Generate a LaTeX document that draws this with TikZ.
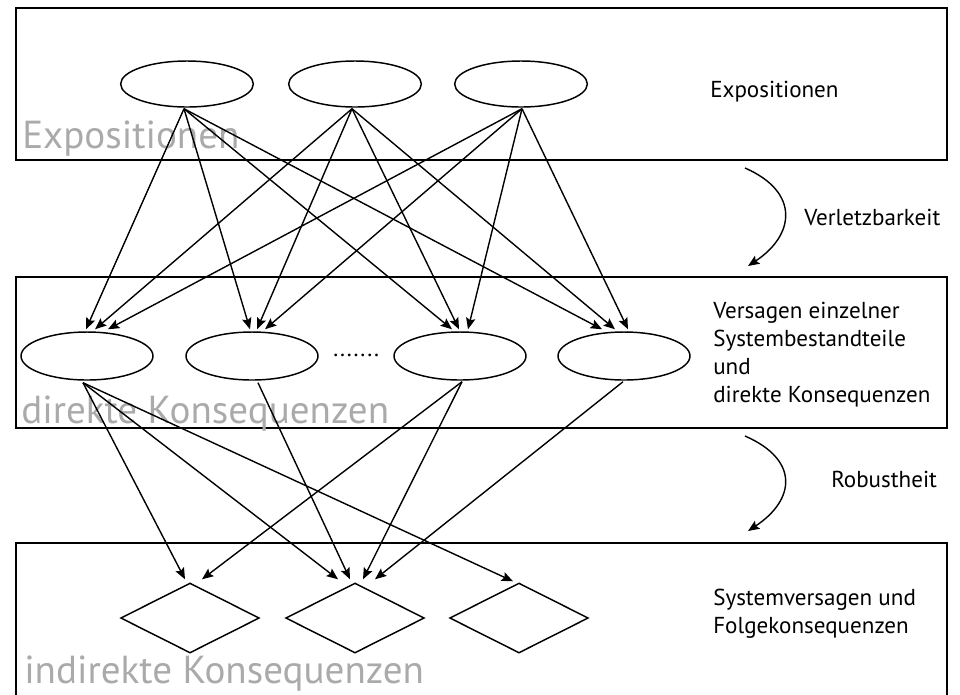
\documentclass[tikz,border=0pt]{standalone}
\usepackage{fontspec}
\setmainfont{PT Sans}
\usetikzlibrary{shapes.geometric,arrows.meta,calc}
\definecolor{labelgray}{RGB}{170,170,170}
\newcommand{\dotrow}{.\kern1.4pt.\kern1.4pt.\kern1.4pt.\kern1.4pt.\kern1.4pt.\kern1.4pt.}
\begin{document}
\begin{tikzpicture}[x=0.75pt,y=-0.75pt,
  layer/.style={draw=black,line width=1.3pt},
  expo/.style={draw,ellipse,line width=1.1pt,minimum width=99.5pt,minimum height=34.5pt,inner sep=0pt},
  cons/.style={draw,ellipse,line width=1.1pt,minimum width=99pt,minimum height=36pt,inner sep=0pt},
  fail/.style={draw,diamond,line width=1.1pt,minimum width=104pt,minimum height=52.5pt,inner sep=0pt},
  link/.style={line width=1.05pt,-{Stealth[length=8.5pt,width=7pt,inset=1.5pt]}},
  caption/.style={anchor=base west,inner sep=0pt,font=\fontsize{17.3}{20}\selectfont},
  watermark/.style={anchor=base west,inner sep=0pt,text=labelgray,font=\fontsize{29.3}{32}\selectfont},
]
\useasboundingbox (0,0) rectangle (960,694);
\begin{scope}
\clip (0,0) rectangle (960,694);

% three layers
\draw[layer] (16,8) rectangle (947,160);
\draw[layer] (16,277) rectangle (947,428);
\draw[layer] (16,543) rectangle (947,710);

% layer titles in grey
\node[watermark] (wexpo) at (22,148) {Expositionen};
\node[watermark] (wdir) at (21,423) {direkte Konsequenzen};
\node[watermark] (wind) at (24,683) {indirekte Konsequenzen};

% exposures
\node[expo] (t1) at (187,84) {};
\node[expo] (t2) at (355,84) {};
\node[expo] (t3) at (521,84) {};

% direct consequences
\node[cons] (m1) at (87,356) {};
\node[cons] (m2) at (252,356) {};
\node[cons] (m3) at (460,356) {};
\node[cons] (m4) at (624,356) {};
\node[caption] (dots) at (333,356) {\dotrow};

% system failures
\node[fail] (d1) at (190,618) {};
\node[fail] (d2) at (355,618) {};
\node[fail] (d3) at (519,618) {};

% right-hand descriptions
\node[caption] (lexpo) at (710,97) {Expositionen};
\node[caption] (lver1) at (713,318) {Versagen einzelner};
\node[caption] (lver2) at (713,346) {Systembestandteile};
\node[caption] (lver3) at (713,374) {und};
\node[caption] (lver4) at (713,402) {direkte Konsequenzen};
\node[caption] (lsys1) at (713,605) {Systemversagen und};
\node[caption] (lsys2) at (713,633) {Folgekonsequenzen};
\node[caption] (lverl) at (804,225) {Verletzbarkeit};
\node[caption] (lrob) at (831,487) {Robustheit};

% exposures -> direct consequences
\draw[link] ($(t1.south)+(-3,1)$) -- ($(m1.north)+(-1,-2)$);
\draw[link] ($(t2.south)+(-3,1)$) -- ($(m1.north)+(8,-2)$);
\draw[link] ($(t3.south)+(1,1)$) -- ($(m1.north)+(21,-2)$);
\draw[link] ($(t1.south)+(-3,1)$) -- ($(m2.north)+(-2,-2)$);
\draw[link] ($(t2.south)+(-3,1)$) -- ($(m2.north)+(5,-2)$);
\draw[link] ($(t3.south)+(1,1)$) -- ($(m2.north)+(13,-2)$);
\draw[link] ($(t1.south)+(-3,1)$) -- ($(m3.north)+(-8,-2)$);
\draw[link] ($(t2.south)+(-3,1)$) -- ($(m3.north)+(-1,-2)$);
\draw[link] ($(t3.south)+(1,1)$) -- ($(m3.north)+(8,-2)$);
\draw[link] ($(t1.south)+(-3,1)$) -- ($(m4.north)+(-22,-2)$);
\draw[link] ($(t2.south)+(-3,1)$) -- ($(m4.north)+(-9,-2)$);
\draw[link] ($(t3.south)+(1,1)$) -- ($(m4.north)+(4,-2)$);

% direct consequences -> system failures
\draw[link] ($(m1.south)+(-4,2)$) -- ($(d1.north)+(-5,-3)$);
\draw[link] ($(m3.south)+(2,1)$) -- ($(d1.north)+(12,-3)$);
\draw[link] ($(m1.south)+(-4,2)$) -- ($(d2.north)+(-17,-3)$);
\draw[link] ($(m2.south)+(6,2)$) -- ($(d2.north)+(-5,-3)$);
\draw[link] ($(m3.south)+(2,1)$) -- ($(d2.north)+(8,-3)$);
\draw[link] ($(m4.south)+(-1,1)$) -- ($(d2.north)+(20,-3)$);
\draw[link] ($(m1.south)+(-4,2)$) -- ($(d3.north)+(-6,-1)$);

% transitions between the layers
\coordinate (va) at (745,168);
\coordinate (vb) at (748,266);
\coordinate (ra) at (745,436);
\coordinate (rb) at (748,531);
\draw[link] (va) .. controls (800,192) and (795,235) .. (vb);
\draw[link] (ra) .. controls (800,460) and (795,500) .. (rb);
\end{scope}
\end{tikzpicture}
\end{document}
